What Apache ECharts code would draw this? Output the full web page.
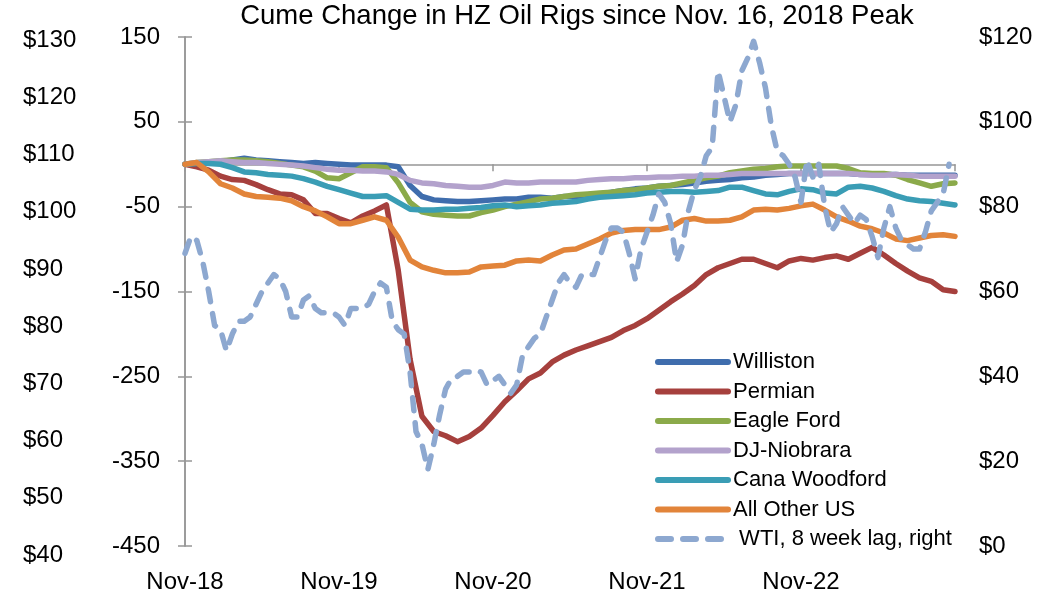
<!DOCTYPE html>
<html>
<head>
<meta charset="utf-8">
<title>Cume Change in HZ Oil Rigs</title>
<script src="https://cdn.jsdelivr.net/npm/echarts@6/dist/echarts.min.js"></script>
<style>
  html, body { margin: 0; padding: 0; background: #fff; }
  #chart { width: 1038px; height: 597px; }
</style>
</head>
<body>
<div id="chart"></div>
<script>
// weeks since Nov 16, 2018 (rig series every 4 weeks, WTI every 2 weeks)
const rigWeeks = Array.from({ length: 66 }, (_, i) => i * 4)
const wtiWeeks = Array.from({ length: 130 }, (_, i) => i * 2)
const xLabels = ['Nov-18', 'Nov-19', 'Nov-20', 'Nov-21', 'Nov-22']

const williston = [0, 1, 2, 3, 5, 7, 5, 4, 3, 2,
  1, 2, 1, 0, -1, -1, -1, -1, -3, -25,
  -38, -42, -43, -44, -44, -43, -42, -41, -41, -39,
  -39, -40, -38, -38, -36, -35, -33, -31, -29, -28,
  -26, -25, -24, -22, -20, -19, -18, -16, -15, -13,
  -12, -11, -11, -11, -11, -11, -11, -12, -12, -12,
  -12, -13, -13, -13, -13, -13]
const permian = [0, -3, -7, -14, -18, -19, -24, -30, -35, -36,
  -42, -58, -58, -64, -69, -61, -55, -48, -125, -230,
  -297, -315, -320, -327, -321, -311, -296, -280, -267, -253,
  -246, -233, -225, -219, -214, -209, -204, -196, -190, -182,
  -172, -162, -153, -143, -130, -122, -117, -112, -112, -117,
  -122, -114, -111, -113, -110, -108, -112, -105, -98, -107,
  -117, -126, -134, -138, -148, -150]
const eagleFord = [0, 2, 3, 4, 5, 5, 4, 3, 1, -1,
  -3, -8, -16, -17, -10, -3, -3, -4, -22, -45,
  -56, -59, -60, -61, -61, -57, -54, -50, -47, -44,
  -41, -40, -38, -36, -35, -34, -33, -31, -30, -28,
  -26, -25, -22, -19, -16, -14, -10, -8, -6, -5,
  -3, -2, -2, -2, -2, -2, -5, -10, -11, -11,
  -13, -18, -22, -26, -23, -22]
const djNiobrara = [0, 2, 3, 4, 3, 2, 2, 1, 0, -1,
  -2, -4, -6, -7, -7, -8, -8, -9, -12, -19,
  -22, -23, -25, -26, -27, -27, -25, -21, -22, -22,
  -21, -21, -21, -21, -19, -18, -17, -17, -16, -16,
  -15, -15, -14, -14, -13, -13, -12, -11, -11, -11,
  -11, -11, -11, -11, -11, -11, -11, -12, -13, -13,
  -12, -13, -14, -14, -14, -14]
const canaWoodford = [0, 1, 1, 0, -4, -9, -10, -12, -13, -14,
  -17, -21, -26, -30, -34, -38, -38, -37, -45, -53,
  -54, -54, -53, -53, -52, -51, -49, -48, -50, -49,
  -48, -46, -45, -44, -41, -39, -38, -37, -36, -34,
  -33, -32, -32, -33, -32, -31, -27, -27, -31, -35,
  -36, -32, -29, -30, -34, -35, -27, -26, -28, -32,
  -37, -41, -43, -44, -46, -48]
const allOtherUS = [0, 2, -9, -23, -28, -35, -38, -39, -40, -43,
  -50, -55, -62, -70, -70, -66, -62, -66, -86, -113,
  -121, -125, -128, -128, -127, -121, -120, -119, -114, -113,
  -114, -107, -101, -100, -94, -88, -81, -78, -77, -77,
  -77, -74, -66, -64, -67, -67, -66, -62, -54, -53,
  -54, -52, -49, -47, -54, -62, -67, -73, -76, -81,
  -88, -90, -87, -84, -83, -85]
const wti = [69, 73, 72, 67, 60, 52, 51, 46, 50, 53,
  53, 54, 57, 60, 62, 64, 63, 60, 54, 54,
  58, 59, 56, 55, 55, 55, 54, 52, 56, 56,
  56, 57, 60, 62, 61, 53, 51, 50, 41, 27,
  24, 18, 24, 31, 37, 39.5, 40, 41, 41, 41.5,
  41, 38, 39, 40, 38, 36, 38, 45, 47, 49,
  50, 54, 58, 62, 64, 62, 61, 64, 64, 64,
  68, 72, 75, 75, 74, 69, 63, 70, 74, 78,
  83, 81, 76, 67, 71, 79, 84, 87, 92, 94,
  112, 106, 100, 104, 112, 115, 119, 114, 108, 99,
  93, 92, 90, 87, 81, 91, 87, 90, 80, 74,
  76, 80, 78, 76, 78, 77, 73, 68, 75, 80,
  75, 72, 71, 70, 70, 74, 79, 81, 83, 90]

const rigNames = ['Williston', 'Permian', 'Eagle Ford', 'DJ-Niobrara', 'Cana Woodford', 'All Other US']
const rigData = [williston, permian, eagleFord, djNiobrara, canaWoodford, allOtherUS]
const rigColors = ['#3F6DAD', '#A6403D', '#8BAA4A', '#B3A2CC', '#3A9DB5', '#E2843A']

const axisGrey = '#969696'
const font = 'Liberation Sans'

const chart = echarts.init(document.getElementById('chart'))

const pairs = (xs, ys) => ys.map((v, i) => [xs[i], v])

const seriesArr = rigNames.map((name, i) => {
  return {
    name: name,
    type: 'line',
    xAxisIndex: 0,
    yAxisIndex: 0,
    showSymbol: false,
    symbol: 'none',
    data: pairs(rigWeeks, rigData[i]),
    lineStyle: { color: rigColors[i], width: 5.5, cap: 'round', join: 'round' },
    itemStyle: { color: rigColors[i] }
  }
})
seriesArr.push({
  name: ' WTI, 8 week lag, right',
  type: 'line',
  xAxisIndex: 0,
  yAxisIndex: 1,
  showSymbol: false,
  symbol: 'none',
  data: pairs(wtiWeeks, wti),
  lineStyle: { color: '#8DA8D0', width: 5.5, type: [13, 12], cap: 'round', join: 'round' },
  itemStyle: { color: '#8DA8D0' }
})

const option = {
  animation: false,
  textStyle: { fontFamily: font, color: '#000' },
  title: {
    text: 'Cume Change in HZ Oil Rigs since Nov. 16, 2018 Peak',
    left: 575,
    textAlign: 'center',
    top: 0,
    padding: 2,
    textStyle: { fontFamily: font, fontSize: 27.5, fontWeight: 'normal', color: '#000' }
  },
  grid: [
    { left: 185, right: 83, top: 37, bottom: 51 },
    // extra price scale on the far left, labels only
    { left: 23, right: 1000, top: 40, bottom: 42 }
  ],
  legend: {
    orient: 'vertical',
    left: 650,
    top: 346,
    itemWidth: 70,
    itemHeight: 2,
    itemGap: 7.5,
    itemStyle: { opacity: 0 },
    lineStyle: { width: 6, cap: 'round' },
    textStyle: { fontFamily: font, fontSize: 22, color: '#000', lineHeight: 22 },
    data: seriesArr.map(s => s.name)
  },
  xAxis: [
    {
      type: 'value',
      gridIndex: 0,
      min: 0,
      max: 260,
      interval: 52,
      axisLine: { onZero: true, onZeroAxisIndex: 0, lineStyle: { color: axisGrey, width: 1.5 } },
      axisTick: { show: true, length: 7, lineStyle: { color: axisGrey, width: 1.5 } },
      axisLabel: { show: false },
      splitLine: { show: false }
    },
    {
      type: 'value',
      gridIndex: 0,
      position: 'bottom',
      min: 0,
      max: 260,
      interval: 52,
      axisLine: { show: false, onZero: false },
      axisTick: { show: false },
      axisLabel: {
        margin: 24,
        fontSize: 24,
        color: '#000',
        formatter: v => xLabels[Math.round(v / 52)] || ''
      },
      splitLine: { show: false }
    },
    { type: 'value', gridIndex: 1, min: 0, max: 1, show: false }
  ],
  yAxis: [
    {
      type: 'value',
      gridIndex: 0,
      position: 'left',
      min: -450,
      max: 150,
      interval: 100,
      axisLine: { show: true, lineStyle: { color: axisGrey, width: 1.5 } },
      axisTick: { show: true, length: 7, lineStyle: { color: axisGrey, width: 1.5 } },
      axisLabel: { margin: 25, fontSize: 24, color: '#000' },
      splitLine: { show: false }
    },
    {
      type: 'value',
      gridIndex: 0,
      position: 'right',
      min: 0,
      max: 120,
      interval: 20,
      axisLine: { show: true, lineStyle: { color: axisGrey, width: 1.5 } },
      axisTick: { show: true, length: 7, lineStyle: { color: axisGrey, width: 1.5 } },
      axisLabel: { margin: 24, fontSize: 24, color: '#000', formatter: v => '$' + v },
      splitLine: { show: false }
    },
    {
      type: 'value',
      gridIndex: 1,
      position: 'left',
      min: 40,
      max: 130,
      interval: 10,
      axisLine: { show: false },
      axisTick: { show: false },
      axisLabel: { margin: 0, align: 'left', fontSize: 24, color: '#000', formatter: v => '$' + v },
      splitLine: { show: false }
    }
  ],
  series: seriesArr
}

chart.setOption(option)
</script>
</body>
</html>
